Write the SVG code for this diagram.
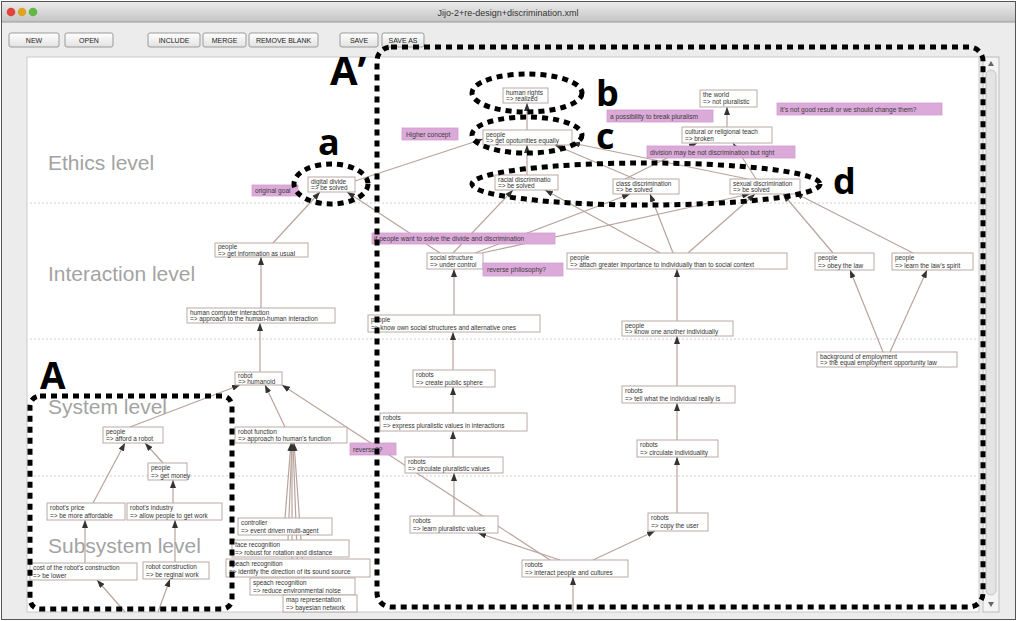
<svg xmlns="http://www.w3.org/2000/svg" width="1017" height="621" viewBox="0 0 1017 621">
<defs>
<linearGradient id="tb" x1="0" y1="0" x2="0" y2="1"><stop offset="0" stop-color="#ebebeb"/><stop offset="1" stop-color="#c4c4c4"/></linearGradient>
<linearGradient id="btn" x1="0" y1="0" x2="0" y2="1"><stop offset="0" stop-color="#ffffff"/><stop offset="1" stop-color="#e2e2e2"/></linearGradient>
<marker id="ah" viewBox="0 0 8 6" refX="8" refY="3" markerWidth="8" markerHeight="6" markerUnits="userSpaceOnUse" orient="auto"><path d="M0,0 L8,3 L0,6 z" fill="#333"/></marker>
</defs>
<style>
.node rect{fill:#fff;stroke:#b9aaa6;stroke-width:1}
.node text{font-family:"Liberation Sans",Arial,sans-serif;font-size:6.4px;fill:#333}
.pink rect{fill:#dcaad9;stroke:#d29bcf;stroke-width:0.8}
.pink text{font-family:"Liberation Sans",Arial,sans-serif;font-size:6.6px;fill:#3a3a3a}
.lvl{font-family:"Liberation Sans",Arial,sans-serif;font-size:21px;fill:#a3a3a3}
.sep{stroke:#cfcfcf;stroke-width:1;stroke-dasharray:2 2}
#connectors line{stroke:#b8a49c;stroke-width:1.2;marker-end:url(#ah)}
.dot{fill:none;stroke:#000;stroke-width:5;stroke-dasharray:6 5}
.big{font-family:"Open Sans","Liberation Sans",sans-serif;font-weight:700;fill:#000}
.bt rect{fill:url(#btn);stroke:#9a9a9a;stroke-width:1}
.bt text{font-family:"Liberation Sans",Arial,sans-serif;font-size:7px;fill:#222;text-anchor:middle}
</style>
<g id="window">
<rect x="1.5" y="1.5" width="1014" height="618" fill="#ececec" stroke="#555"/>
<rect x="2" y="2" width="1013" height="20" fill="url(#tb)"/>
<line x1="2" y1="22" x2="1015" y2="22" stroke="#9a9a9a"/>
<circle cx="11" cy="12" r="4.3" fill="#e0463e"/>
<circle cx="22" cy="12" r="4.3" fill="#e0a424"/>
<circle cx="33" cy="12" r="4.3" fill="#62b747"/>
<text x="508" y="16" font-family="Liberation Sans,Arial,sans-serif" font-size="9px" fill="#333" text-anchor="middle">Jijo-2+re-design+discrimination.xml</text>
<g class="bt"><rect x="9" y="33" width="50" height="14" rx="2"/><text x="34" y="43">NEW</text></g>
<g class="bt"><rect x="65" y="33" width="48" height="14" rx="2"/><text x="89" y="43">OPEN</text></g>
<g class="bt"><rect x="148" y="33" width="52" height="14" rx="2"/><text x="174" y="43">INCLUDE</text></g>
<g class="bt"><rect x="203" y="33" width="43" height="14" rx="2"/><text x="224.5" y="43">MERGE</text></g>
<g class="bt"><rect x="249" y="33" width="69" height="14" rx="2"/><text x="283.5" y="43">REMOVE BLANK</text></g>
<g class="bt"><rect x="340" y="33" width="38" height="14" rx="2"/><text x="359" y="43">SAVE</text></g>
<g class="bt"><rect x="382" y="33" width="42" height="14" rx="2"/><text x="403" y="43">SAVE AS</text></g>
<rect x="27" y="57" width="952" height="555" fill="#fff" stroke="#c9c9c9"/>
<rect x="983" y="57" width="16" height="555" fill="#f4f4f4" stroke="#bdbdbd"/>
<rect x="986" y="70" width="10" height="525" rx="5" fill="#e4e4e4" stroke="#c4c4c4"/>
<path d="M988,66 L991,61 L994,66 z" fill="#666"/>
<path d="M988,602 L991,607 L994,602 z" fill="#666"/>
</g>
<g id="levels">
<line class="sep" x1="30" y1="203" x2="976" y2="203"/>
<line class="sep" x1="30" y1="339" x2="976" y2="339"/>
<line class="sep" x1="30" y1="476" x2="976" y2="476"/>
<text class="lvl" x="48" y="170">Ethics level</text>
<text class="lvl" x="48" y="281">Interaction level</text>
<text class="lvl" x="48" y="414">System level</text>
<text class="lvl" x="48" y="553">Subsystem level</text>
</g>
<g id="connectors">
<line x1="527" y1="130" x2="527" y2="103"/>
<line x1="527" y1="175" x2="527" y2="145"/>
<line x1="635" y1="179" x2="555" y2="145"/>
<line x1="748" y1="179" x2="572" y2="143"/>
<line x1="625" y1="179" x2="697" y2="143"/>
<line x1="756" y1="179" x2="733" y2="143"/>
<line x1="727" y1="127" x2="727" y2="107"/>
<line x1="355" y1="181" x2="483" y2="139"/>
<line x1="273" y1="243" x2="320" y2="192"/>
<line x1="261" y1="308" x2="261" y2="257"/>
<line x1="260" y1="372" x2="260" y2="323"/>
<line x1="440" y1="253" x2="347" y2="192"/>
<line x1="453" y1="253" x2="513" y2="190"/>
<line x1="475" y1="253" x2="630" y2="194"/>
<line x1="482" y1="253" x2="750" y2="194"/>
<line x1="660" y1="253" x2="545" y2="190"/>
<line x1="673" y1="253" x2="650" y2="194"/>
<line x1="688" y1="253" x2="755" y2="194"/>
<line x1="833" y1="253" x2="783" y2="194"/>
<line x1="913" y1="253" x2="795" y2="193"/>
<line x1="454" y1="315" x2="454" y2="269"/>
<line x1="677" y1="321" x2="677" y2="269"/>
<line x1="453" y1="370" x2="453" y2="332"/>
<line x1="453" y1="413" x2="453" y2="387"/>
<line x1="453" y1="457" x2="453" y2="431"/>
<line x1="454" y1="516" x2="454" y2="473"/>
<line x1="560" y1="560" x2="478" y2="533"/>
<line x1="593" y1="560" x2="655" y2="531"/>
<line x1="550" y1="560" x2="282" y2="385"/>
<line x1="677" y1="513" x2="677" y2="457"/>
<line x1="677" y1="440" x2="677" y2="403"/>
<line x1="677" y1="386" x2="677" y2="336"/>
<line x1="883" y1="352" x2="850" y2="270"/>
<line x1="890" y1="352" x2="927" y2="270"/>
<line x1="130" y1="427" x2="240" y2="385"/>
<line x1="285" y1="427" x2="265" y2="385"/>
<line x1="93" y1="503" x2="125" y2="443"/>
<line x1="163" y1="463" x2="145" y2="443"/>
<line x1="173" y1="503" x2="173" y2="480"/>
<line x1="85" y1="563" x2="85" y2="520"/>
<line x1="175" y1="562" x2="175" y2="520"/>
<line x1="125" y1="612" x2="97" y2="580"/>
<line x1="158" y1="612" x2="170" y2="579"/>
<line x1="285" y1="518" x2="291" y2="443"/>
<line x1="288" y1="540" x2="292" y2="443"/>
<line x1="292" y1="559" x2="292" y2="443"/>
<line x1="298" y1="578" x2="293" y2="443"/>
<line x1="305" y1="595" x2="294" y2="443"/>
<line x1="573" y1="611" x2="573" y2="577"/>
</g>
<g id="n1" class="node"><rect x="503" y="88" width="45" height="15"/><text><tspan x="506" y="94.5">human rights</tspan><tspan x="506" y="101">=&gt; realized</tspan></text></g>
<g id="n2" class="node"><rect x="483" y="130" width="89" height="15"/><text><tspan x="486" y="136.5">people</tspan><tspan x="486" y="143">=&gt; get opotunities equally</tspan></text></g>
<g id="n3" class="node"><rect x="495" y="175" width="63" height="15"/><text><tspan x="498" y="181.5">racial discriminatio</tspan><tspan x="498" y="188">=&gt; be solved</tspan></text></g>
<g id="n4" class="node"><rect x="613" y="179" width="66" height="15"/><text><tspan x="616" y="185.5">class discrimination</tspan><tspan x="616" y="192">=&gt; be solved</tspan></text></g>
<g id="n5" class="node"><rect x="730" y="179" width="70" height="15"/><text><tspan x="733" y="185.5">sexual discrimination</tspan><tspan x="733" y="192">=&gt; be solved</tspan></text></g>
<g id="n6" class="node"><rect x="700" y="90" width="57" height="17"/><text><tspan x="703" y="97">the world</tspan><tspan x="703" y="104">=&gt; not pluralistic</tspan></text></g>
<g id="n7" class="node"><rect x="682" y="127" width="90" height="16"/><text><tspan x="685" y="134">cultural or religional teach</tspan><tspan x="685" y="141">=&gt; broken</tspan></text></g>
<g id="n8" class="node"><rect x="308" y="177" width="47" height="15"/><text><tspan x="311" y="183.5">digital divide</tspan><tspan x="311" y="190">=&gt; be solved</tspan></text></g>
<g id="n9" class="node"><rect x="215" y="243" width="93" height="14"/><text><tspan x="218" y="249">people</tspan><tspan x="218" y="255.5">=&gt; get information as usual</tspan></text></g>
<g id="n10" class="node"><rect x="427" y="253" width="56" height="16"/><text><tspan x="430" y="260">social structure</tspan><tspan x="430" y="267">=&gt; under control</tspan></text></g>
<g id="n11" class="node"><rect x="567" y="253" width="220" height="16"/><text><tspan x="570" y="260">people</tspan><tspan x="570" y="267">=&gt; attach greater importance to individually than to social context</tspan></text></g>
<g id="n12" class="node"><rect x="815" y="253" width="59" height="17"/><text><tspan x="818" y="260">people</tspan><tspan x="818" y="267.5">=&gt; obey the law</tspan></text></g>
<g id="n13" class="node"><rect x="892" y="253" width="81" height="17"/><text><tspan x="895" y="260">people</tspan><tspan x="895" y="267.5">=&gt; learn the law's spirit</tspan></text></g>
<g id="n14" class="node"><rect x="817" y="352" width="140" height="15"/><text><tspan x="820" y="358.5">background of employment</tspan><tspan x="820" y="365">=&gt; the equal employment opportunity law</tspan></text></g>
<g id="n15" class="node"><rect x="368" y="315" width="172" height="17"/><text><tspan x="371" y="322">people</tspan><tspan x="371" y="329.5">=&gt; know own social structures and alternative ones</tspan></text></g>
<g id="n16" class="node"><rect x="622" y="321" width="111" height="15"/><text><tspan x="625" y="327.5">people</tspan><tspan x="625" y="334">=&gt; know one another individually</tspan></text></g>
<g id="n17" class="node"><rect x="413" y="370" width="82" height="17"/><text><tspan x="416" y="377">robots</tspan><tspan x="416" y="384.5">=&gt; create public sphere</tspan></text></g>
<g id="n18" class="node"><rect x="622" y="386" width="113" height="17"/><text><tspan x="625" y="393">robots</tspan><tspan x="625" y="400.5">=&gt; tell what the individual really is</tspan></text></g>
<g id="n19" class="node"><rect x="380" y="413" width="147" height="18"/><text><tspan x="383" y="420">robots</tspan><tspan x="383" y="428">=&gt; express pluralistic values in interactions</tspan></text></g>
<g id="n20" class="node"><rect x="637" y="440" width="81" height="17"/><text><tspan x="640" y="447">robots</tspan><tspan x="640" y="454.5">=&gt; circulate individuality</tspan></text></g>
<g id="n21" class="node"><rect x="405" y="457" width="98" height="16"/><text><tspan x="408" y="464">robots</tspan><tspan x="408" y="471">=&gt; circulate pluralistic values</tspan></text></g>
<g id="n22" class="node"><rect x="410" y="516" width="88" height="17"/><text><tspan x="413" y="523">robots</tspan><tspan x="413" y="530.5">=&gt; learn pluralistic values</tspan></text></g>
<g id="n23" class="node"><rect x="648" y="513" width="60" height="18"/><text><tspan x="651" y="520">robots</tspan><tspan x="651" y="528">=&gt; copy the user</tspan></text></g>
<g id="n24" class="node"><rect x="522" y="560" width="106" height="17"/><text><tspan x="525" y="567">robots</tspan><tspan x="525" y="574.5">=&gt; interact people and cultures</tspan></text></g>
<g id="n25" class="node"><rect x="235" y="372" width="47" height="13"/><text><tspan x="238" y="378">robot</tspan><tspan x="238" y="384">=&gt; humanoid</tspan></text></g>
<g id="n26" class="node"><rect x="187" y="308" width="148" height="15"/><text><tspan x="190" y="314.5">human computer interaction</tspan><tspan x="190" y="321">=&gt; approach to the human-human interaction</tspan></text></g>
<g id="n27" class="node"><rect x="103" y="427" width="60" height="16"/><text><tspan x="106" y="434">people</tspan><tspan x="106" y="441">=&gt; afford a robot</tspan></text></g>
<g id="n28" class="node"><rect x="235" y="427" width="112" height="16"/><text><tspan x="238" y="434">robot function</tspan><tspan x="238" y="441">=&gt; approach to human's function</tspan></text></g>
<g id="n29" class="node"><rect x="148" y="463" width="39" height="17"/><text><tspan x="151" y="470">people</tspan><tspan x="151" y="477.5">=&gt; get money</tspan></text></g>
<g id="n30" class="node"><rect x="47" y="503" width="78" height="17"/><text><tspan x="50" y="510">robot's price</tspan><tspan x="50" y="517.5">=&gt; be more affordable</tspan></text></g>
<g id="n31" class="node"><rect x="127" y="503" width="95" height="17"/><text><tspan x="130" y="510">robot's industry</tspan><tspan x="130" y="517.5">=&gt; allow people to get work</tspan></text></g>
<g id="n32" class="node"><rect x="30" y="563" width="107" height="17"/><text><tspan x="33" y="570">cost of the robot's construction</tspan><tspan x="33" y="577.5">=&gt; be lower</tspan></text></g>
<g id="n33" class="node"><rect x="143" y="562" width="66" height="17"/><text><tspan x="146" y="569">robot construction</tspan><tspan x="146" y="576.5">=&gt; be reginal work</tspan></text></g>
<g id="n34" class="node"><rect x="238" y="518" width="94" height="17"/><text><tspan x="241" y="525">controller</tspan><tspan x="241" y="532.5">=&gt; event driven multi-agent</tspan></text></g>
<g id="n35" class="node"><rect x="232" y="540" width="117" height="17"/><text><tspan x="235" y="547">face recognition</tspan><tspan x="235" y="554.5">=&gt; robust for rotation and distance</tspan></text></g>
<g id="n36" class="node"><rect x="226" y="559" width="144" height="18"/><text><tspan x="229" y="566">speach recognition</tspan><tspan x="229" y="574">=&gt; identify the direction of its sound source</tspan></text></g>
<g id="n37" class="node"><rect x="250" y="578" width="105" height="17"/><text><tspan x="253" y="585">speach recognition</tspan><tspan x="253" y="592.5">=&gt; reduce environmental noise</tspan></text></g>
<g id="n38" class="node"><rect x="283" y="595" width="74" height="17"/><text><tspan x="286" y="602">map representation</tspan><tspan x="286" y="609.5">=&gt; bayesian network</tspan></text></g>
<g id="p1" class="pink"><rect x="402" y="128" width="56" height="12"/><text x="406" y="136.5">Higher concept</text></g>
<g id="p2" class="pink"><rect x="607" y="110" width="106" height="12"/><text x="610" y="118.5">a possibility to break pluralism</text></g>
<g id="p3" class="pink"><rect x="777" y="103" width="165" height="12"/><text x="780" y="111.5">It's not good result or we should change them?</text></g>
<g id="p4" class="pink"><rect x="647" y="146" width="148" height="12"/><text x="650" y="154.5">division may be not discrimination but right</text></g>
<g id="p5" class="pink"><rect x="252" y="185" width="46" height="11"/><text x="255" y="193">original goal</text></g>
<g id="p6" class="pink"><rect x="372" y="233" width="183" height="11"/><text x="374" y="241">if people want to solve the divide and discrimination</text></g>
<g id="p7" class="pink"><rect x="483" y="263" width="80" height="13"/><text x="487" y="272">reverse philosophy?</text></g>
<g id="p8" class="pink"><rect x="350" y="443" width="46" height="12"/><text x="353" y="451.5">reverse??</text></g>
<g id="annotations">
<ellipse class="dot" cx="331" cy="184" rx="37" ry="20"/>
<ellipse class="dot" cx="527" cy="93" rx="55" ry="19"/>
<ellipse class="dot" cx="527" cy="135" rx="55" ry="18"/>
<ellipse class="dot" cx="646" cy="184" rx="174" ry="21"/>
<rect class="dot" x="30" y="396" width="202" height="213" rx="10"/>
<rect class="dot" x="377" y="47" width="606" height="560" rx="14"/>
<text class="big" x="318" y="155" font-size="36px">a</text>
<text class="big" x="596" y="106" font-size="36px">b</text>
<text class="big" x="596" y="149" font-size="36px">c</text>
<text class="big" x="833" y="194" font-size="36px">d</text>
<text class="big" x="40" y="389" font-size="37px">A</text>
<text class="big" x="330" y="85" font-size="40px">A’</text>
</g>
</svg>
